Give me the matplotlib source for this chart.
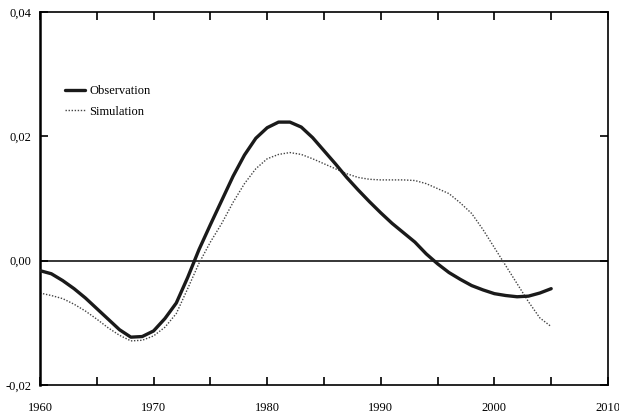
import matplotlib
matplotlib.use("Agg")
import matplotlib.pyplot as plt
from matplotlib.ticker import MultipleLocator, FuncFormatter

plt.rcParams['font.family'] = ['Liberation Serif', 'DejaVu Serif']
plt.rcParams['font.size'] = 9

years_obs = [1960, 1961, 1962, 1963, 1964, 1965, 1966, 1967, 1968, 1969,
             1970, 1971, 1972, 1973, 1974, 1975, 1976, 1977, 1978, 1979,
             1980, 1981, 1982, 1983, 1984, 1985, 1986, 1987, 1988, 1989,
             1990, 1991, 1992, 1993, 1994, 1995, 1996, 1997, 1998, 1999,
             2000, 2001, 2002, 2003, 2004, 2005]
observation = [-0.0016, -0.0021, -0.0032, -0.0045, -0.0060, -0.0077, -0.0094, -0.0111, -0.0123, -0.0122,
               -0.0113, -0.0093, -0.0068, -0.0027, 0.0018, 0.0058, 0.0097, 0.0136, 0.0170, 0.0197,
               0.0214, 0.0223, 0.0223, 0.0215, 0.0198, 0.0177, 0.0156, 0.0134, 0.0114, 0.0095,
               0.0077, 0.0060, 0.0045, 0.0030, 0.0011, -0.0005, -0.0019, -0.0030, -0.0040, -0.0047,
               -0.0053, -0.0056, -0.0058, -0.0057, -0.0052, -0.0045]

years_sim = years_obs
simulation = [-0.0052, -0.0056, -0.0061, -0.0070, -0.0081, -0.0094, -0.0108, -0.0120, -0.0129, -0.0128,
              -0.0121, -0.0107, -0.0085, -0.0045, -0.0004, 0.0030, 0.0060, 0.0094, 0.0124, 0.0148,
              0.0164, 0.0171, 0.0174, 0.0171, 0.0164, 0.0156, 0.0148, 0.0140, 0.0134, 0.0131,
              0.0130, 0.0130, 0.0130, 0.0129, 0.0124, 0.0116, 0.0108, 0.0093, 0.0076, 0.0050,
              0.0021, -0.0008, -0.0037, -0.0066, -0.0092, -0.0106]

fig = plt.figure(figsize=(6.19, 4.17), dpi=100)
ax = fig.add_axes([0.0646, 0.0767, 0.9176, 0.8943])

ax.axhline(0, color='black', lw=1.1, zorder=1)
ax.plot(years_obs, observation, color='#1a1a1a', lw=2.4, label='Observation',
        solid_capstyle='round', solid_joinstyle='round', zorder=3)
ax.plot(years_sim, simulation, color='#444444', lw=1.0, linestyle=(0, (1, 1.2)),
        label='Simulation', zorder=2)

ax.set_xlim(1960, 2010)
ax.set_ylim(-0.02, 0.04)
ax.xaxis.set_major_locator(MultipleLocator(10))
ax.xaxis.set_minor_locator(MultipleLocator(5))
ax.yaxis.set_major_locator(MultipleLocator(0.02))
ax.yaxis.set_major_formatter(FuncFormatter(lambda v, p: ('%.2f' % v).replace('.', ',')))

ax.tick_params(which='both', direction='in', top=True, right=True, length=6, width=1.2)
ax.tick_params(axis='x', which='major', pad=12)
ax.tick_params(axis='y', which='major', pad=6)

for side in ['top', 'right', 'bottom']:
    ax.spines[side].set_linewidth(1.2)
ax.spines['left'].set_linewidth(1.8)

ax.legend(loc='upper left', bbox_to_anchor=(0.025, 0.835), frameon=False,
          handlelength=1.6, handletextpad=0.3, labelspacing=0.7, fontsize=9)

fig.savefig('out.png', dpi=100)
